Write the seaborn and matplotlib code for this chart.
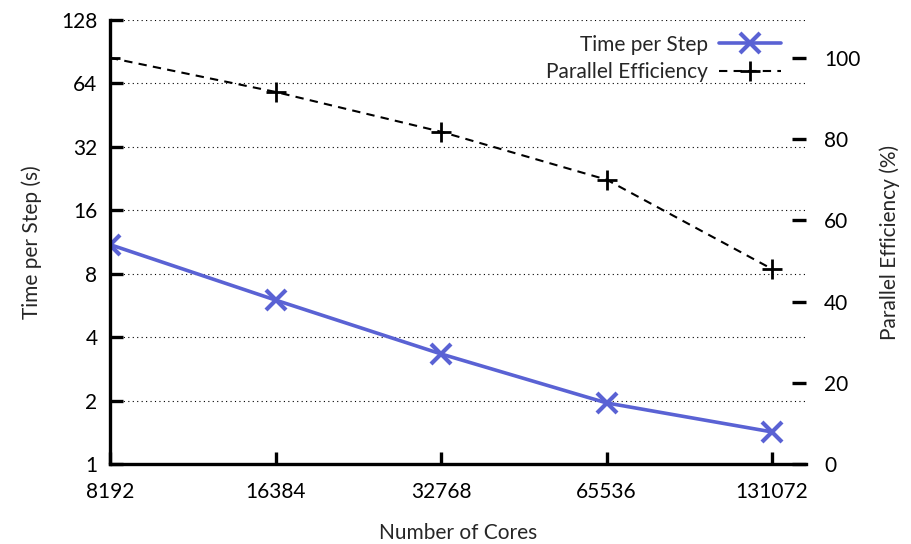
import numpy as np
import pandas as pd
import matplotlib
matplotlib.use("Agg")
import matplotlib.pyplot as plt
import seaborn as sns

# Data
cores = [8192, 16384, 32768, 65536, 131072]
time_per_step = [11.0, 6.0, 3.33, 1.95, 1.42]
efficiency = [100.0, 91.6, 81.8, 70.0, 48.0]

left_ticks = [1, 2, 4, 8, 16, 32, 64, 128]
right_ticks = [0, 20, 40, 60, 80, 100]

BLUE = '#5A62D4'
FS = 15

sns.set_theme(style='white')
plt.rcParams['font.family'] = ['Lato', 'DejaVu Sans']

df = pd.DataFrame({'cores': cores, 'time': time_per_step, 'eff': efficiency})

fig = plt.figure(figsize=(9.12, 5.44), dpi=100)
ax = fig.add_subplot(111)
fig.subplots_adjust(left=0.1206, right=0.8838, top=0.9632, bottom=0.147)

sns.lineplot(data=df, x='cores', y='time', ax=ax, color=BLUE, linewidth=2.6,
             marker='x', markersize=15, markeredgewidth=3, markeredgecolor=BLUE,
             label='Time per Step')
ax.set_xscale('log', base=2)
ax.set_yscale('log', base=2)
ax.set_xlim(8192, 2 ** 17.205)
ax.set_ylim(1, 128)
ax.set_xticks(cores)
ax.set_xticklabels([str(c) for c in cores])
ax.set_yticks(left_ticks)
ax.set_yticklabels([str(t) for t in left_ticks])
ax.minorticks_off()
ax.yaxis.grid(True, linestyle=(0, (1, 3)), color='black', linewidth=0.8)
ax.xaxis.grid(False)
ax.set_xlabel('Number of Cores', fontsize=FS, labelpad=15)
ax.set_ylabel('Time per Step (s)', fontsize=FS, labelpad=14)

ax2 = ax.twinx()
sns.lineplot(data=df, x='cores', y='eff', ax=ax2, color='black', linewidth=1.5,
             linestyle=(0, (4, 3)), marker='+', markersize=14, markeredgewidth=2,
             markeredgecolor='black', label='Parallel Efficiency')
ax2.set_ylim(0, 109.3)
ax2.set_yticks(right_ticks)
ax2.set_yticklabels([str(t) for t in right_ticks])
ax2.set_ylabel('Parallel Efficiency (%)', fontsize=FS, labelpad=14)
ax2.grid(False)

for a in (ax, ax2):
    for s in ('top', 'right'):
        a.spines[s].set_visible(False)
ax2.spines['left'].set_visible(False)
ax2.spines['bottom'].set_visible(False)
ax.spines['left'].set_linewidth(2.4)
ax.spines['bottom'].set_linewidth(2.4)
ax.spines['left'].set_color('black')
ax.spines['bottom'].set_color('black')

ax.tick_params(axis='both', which='major', direction='in', length=9, width=2.4,
               labelsize=FS, colors='black')
ax.tick_params(axis='y', pad=9)
ax.tick_params(axis='x', pad=13)
ax.tick_params(axis='x', bottom=True)
ax.tick_params(axis='y', left=True)
ax2.tick_params(axis='y', direction='in', length=10, width=2.4, labelsize=FS,
                pad=13, right=True, colors='black')

h1, l1 = ax.get_legend_handles_labels()
h2, l2 = ax2.get_legend_handles_labels()
ax.get_legend().remove()
ax2.get_legend().remove()
ax2.legend(h1 + h2, l1 + l2, loc='upper right', frameon=False, markerfirst=False,
           fontsize=FS, handlelength=3.0, handletextpad=0.5, borderaxespad=0.3,
           labelspacing=0.35, bbox_to_anchor=(0.985, 1.0))

fig.savefig('out.png', dpi=100, facecolor='white')
